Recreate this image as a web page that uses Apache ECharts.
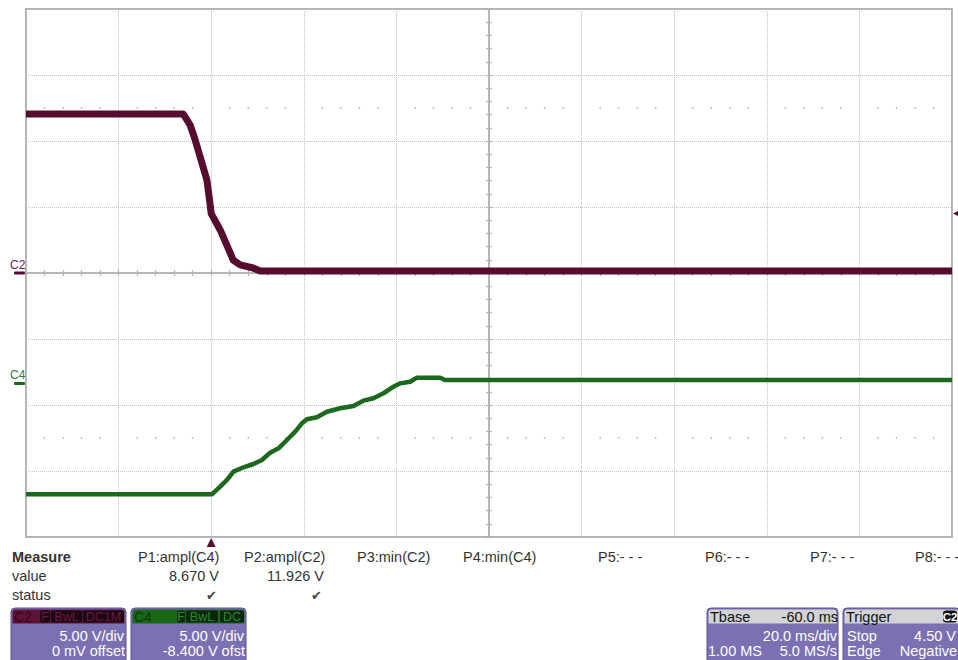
<!DOCTYPE html>
<html>
<head>
<meta charset="utf-8">
<script src="https://cdn.jsdelivr.net/npm/echarts@6/dist/echarts.min.js"></script>
<style>
  html, body { margin: 0; padding: 0; background: #ffffff; }
  #scope { width: 958px; height: 660px; }
</style>
</head>
<body>
<div id="scope"></div>
<script>
// ---- Acquired waveforms (time in ms relative to trigger, level in volts) ----
const c2Time  = [-40, -6.05, -4.54, -3.46, -2.38, -0.93, -0.22, 0, 1.94, 4.10, 4.75, 6.26, 9.07, 10.58, 160];
const c2Volts = [12.05, 12.05, 11.21, 10.08, 8.79, 7.05, 5.15, 4.5, 3.26, 1.52, 0.98, 0.61, 0.38, 0.15, 0.15];

const c4Time  = [-40, 0.15, 1.94, 3.39, 4.82, 6.98, 9.14, 10.95, 12.74, 14.54, 16.35, 18.14, 19.59, 20.67,
                 22.83, 24.99, 27.86, 30.73, 32.89, 35.05, 37.21, 39.37, 40.82, 42.98, 44.43, 49.46, 50.5, 160];
const c4Volts = [-8.37, -8.37, -7.79, -7.28, -6.65, -6.32, -6.07, -5.77, -5.21, -4.88, -4.25, -3.62, -2.99, -2.68,
                 -2.53, -2.11, -1.85, -1.68, -1.27, -1.09, -0.71, -0.21, 0.04, 0.16, 0.47, 0.47, 0.29, 0.29];

// ---- Acquisition settings ----
const timePerDiv = 20;        // ms/div
const timeDelay = -60;        // ms
const voltsPerDiv = [5, 5];   // C2, C4
const channelOffset = [0, -8.4];
const triggerLevel = 4.5;     // V on C2

// ---- Measurement table ----
const measureNames  = ['P1:ampl(C4)', 'P2:ampl(C2)', 'P3:min(C2)', 'P4:min(C4)', 'P5:- - -', 'P6:- - -', 'P7:- - -', 'P8:- - -'];
const measureValues = ['8.670 V', '11.926 V', '', '', '', '', '', ''];
const measureStatus = ['\u2714', '\u2714', '', '', '', '', '', ''];

// ---- Channel / timebase panels ----
const c2Panel = { name: 'C2', badges: ['F', 'BwL', 'DC1M'], lines: ['5.00 V/div', '0 mV offset'] };
const c4Panel = { name: 'C4', badges: ['F', 'BwL', 'DC'], lines: ['5.00 V/div', '-8.400 V ofst'] };
const tbasePanel = { title: 'Tbase', titleValue: '-60.0 ms', rows: [['', '20.0 ms/div'], ['1.00 MS', '5.0 MS/s']] };
const trigPanel = { title: 'Trigger', source: 'C2', rows: [['Stop', '4.50 V'], ['Edge', 'Negative']] };

// ------------------------------------------------------------------
const FONT = '"Liberation Sans", Arial, sans-serif';
const GRID_DOT = '#c2c2c2';
const AXIS_GREY = '#b2b2b2';
const C2_COLOR = '#560c2e';
const C4_COLOR = '#1c681c';

const halfSpanT = timePerDiv * 5;
const tCenter = -timeDelay;
const tMin = tCenter - halfSpanT, tMax = tCenter + halfSpanT;
function vRange(ch) {
  const centre = -channelOffset[ch];
  return [centre - voltsPerDiv[ch] * 4, centre + voltsPerDiv[ch] * 4];
}
const c2Range = vRange(0), c4Range = vRange(1);

// tick marks along the centre cross, 5 per division
const divAxisCommon = {
  type: 'value', interval: 1,
  axisLabel: { show: false }, splitLine: { show: false },
  axisLine: { show: true, onZero: true, lineStyle: { color: AXIS_GREY, width: 1.5 } },
  axisTick: { show: true, length: 3, lineStyle: { color: AXIS_GREY, width: 1.2 } },
  minorTick: { show: true, splitNumber: 5, length: 3, lineStyle: { color: AXIS_GREY, width: 1.2 } }
};

// dotted marker rows at +/-2.5 divisions
const markerDots = [];
for (let k = 1; k < 50; k++) {
  if (k % 5 === 0) continue;
  const x = -5 + k * 0.2;
  markerDots.push([x, 2.5], [x, -2.5]);
}

const chart = echarts.init(document.getElementById('scope'), null, { renderer: 'svg' });

const option = {
  animation: false,
  backgroundColor: '#ffffff',
  grid: { left: 26, top: 9, width: 926, height: 528, show: true, borderColor: AXIS_GREY, borderWidth: 2, backgroundColor: '#ffffff' },
  xAxis: [
    { type: 'value', position: 'bottom', min: tMin, max: tMax, interval: timePerDiv,
      axisLine: { show: false }, axisTick: { show: false }, axisLabel: { show: false },
      splitLine: { show: true, lineStyle: { color: GRID_DOT, type: [1, 1], width: 1 } } },
    Object.assign({}, divAxisCommon, { position: 'bottom', min: -5, max: 5,
      axisLine: Object.assign({}, divAxisCommon.axisLine, { onZeroAxisIndex: 2 }) }),
    Object.assign({}, divAxisCommon, { position: 'top', min: -5, max: 5,
      axisLine: Object.assign({}, divAxisCommon.axisLine, { onZeroAxisIndex: 2 }) })
  ],
  yAxis: [
    { type: 'value', position: 'left', min: c2Range[0], max: c2Range[1], interval: voltsPerDiv[0],
      axisLine: { show: false }, axisTick: { show: false }, axisLabel: { show: false },
      splitLine: { show: true, lineStyle: { color: GRID_DOT, type: [1, 1], width: 1 } } },
    { type: 'value', position: 'right', min: c4Range[0], max: c4Range[1], show: false, splitLine: { show: false } },
    Object.assign({}, divAxisCommon, { position: 'left', min: -4, max: 4,
      axisLine: Object.assign({}, divAxisCommon.axisLine, { onZeroAxisIndex: 1 }) }),
    Object.assign({}, divAxisCommon, { position: 'right', min: -4, max: 4,
      axisLine: Object.assign({}, divAxisCommon.axisLine, { onZeroAxisIndex: 1 }) })
  ],
  series: [
    { type: 'scatter', xAxisIndex: 1, yAxisIndex: 2, data: markerDots, symbolSize: 1.6, silent: true,
      itemStyle: { color: '#a0a0a0' }, z: 1 },
    { name: 'C2', type: 'line', xAxisIndex: 0, yAxisIndex: 0, showSymbol: false, silent: true, z: 5,
      data: c2Time.map((t, i) => [t, c2Volts[i]]),
      lineStyle: { color: C2_COLOR, width: 7, join: 'round' } },
    { name: 'C4', type: 'line', xAxisIndex: 0, yAxisIndex: 1, showSymbol: false, silent: true, z: 5,
      data: c4Time.map((t, i) => [t, c4Volts[i]]),
      lineStyle: { color: C4_COLOR, width: 4.5, join: 'round' } }
  ]
};
chart.setOption(option);

// ---------------- annotations outside the plot ----------------
function text(x, y, s, o) {
  o = o || {};
  return {
    type: 'text', z: 100, silent: true,
    style: {
      x: x, y: y, text: s,
      font: (o.weight || 'normal') + ' ' + (o.size || 14.5) + 'px ' + FONT,
      fill: o.fill || '#333333',
      align: o.align || 'left', textAlign: o.align || 'left',
      verticalAlign: 'middle', textVerticalAlign: 'middle'
    }
  };
}
function rect(x, y, w, h, fill, r, stroke) {
  return { type: 'rect', z: 90, silent: true, shape: { x: x, y: y, width: w, height: h, r: r || 0 },
           style: { fill: fill, stroke: stroke || null, lineWidth: stroke ? 1 : 0 } };
}
function poly(points, fill) {
  return { type: 'polygon', z: 100, silent: true, shape: { points: points }, style: { fill: fill } };
}

const g = [];
const gridRight = 952, gridBottom = 537;

// channel ground markers
const c2Zero = chart.convertToPixel({ yAxisIndex: 0 }, 0);
const c4Zero = chart.convertToPixel({ yAxisIndex: 1 }, 0);
g.push(text(10, c2Zero - 8.5, 'C2', { size: 12, fill: '#6e2250' }));
g.push(rect(14, c2Zero - 1.5, 11, 3, C2_COLOR, 1));
g.push(text(10, c4Zero - 9, 'C4', { size: 12, fill: '#2f7f3f' }));
g.push(rect(14, c4Zero - 2, 11, 3, C4_COLOR, 1));

// trigger level (right edge) and trigger time (bottom edge)
const trigY = chart.convertToPixel({ yAxisIndex: 0 }, triggerLevel);
g.push(poly([[gridRight + 1, trigY], [gridRight + 7, trigY - 3], [gridRight + 7, trigY + 3]], C2_COLOR));
const trigX = chart.convertToPixel({ xAxisIndex: 0 }, 0);
g.push(poly([[trigX, gridBottom + 1], [trigX - 4.5, gridBottom + 10], [trigX + 4.5, gridBottom + 10]], C2_COLOR));

// measurement table
const rowY = [557, 576, 595];
const colX = [138, 244, 357, 463, 598, 705, 810, 915];
const colRight = [219, 324];
g.push(text(12, rowY[0], 'Measure', { weight: 'bold' }));
g.push(text(12, rowY[1], 'value'));
g.push(text(12, rowY[2], 'status'));
measureNames.forEach((n, i) => {
  g.push(text(colX[i], rowY[0], n));
  if (measureValues[i]) g.push(text(colRight[i], rowY[1], measureValues[i], { align: 'right' }));
  if (measureStatus[i]) g.push(text(colRight[i] - 2, rowY[2], measureStatus[i], { align: 'right', size: 13, fill: '#444444' }));
});

// channel panels
const PANEL_BODY = '#7b70b2';
const PANEL_EDGE = '#5b5192';
function channelPanel(p, x, w, headFill, nameFill, badgeFill, badgeText, badgeX) {
  g.push(rect(x, 608, w, 60, PANEL_BODY, [4, 4, 0, 0], PANEL_EDGE));
  g.push(rect(x + 1.5, 609.5, w - 3, 14, headFill, [3, 3, 0, 0]));
  g.push(text(x + 3, 616.5, p.name, { fill: nameFill, size: 14 }));
  p.badges.forEach((b, i) => {
    const bx = badgeX[i][0], bw = badgeX[i][1] - badgeX[i][0];
    g.push(rect(bx, 610.5, bw, 12, badgeFill, 2));
    g.push(text(bx + bw / 2, 616.5, b, { fill: badgeText, size: 12.5, align: 'center' }));
  });
  g.push(text(x + w - 2, 636, p.lines[0], { fill: '#ffffff', align: 'right' }));
  g.push(text(x + w - 1, 651, p.lines[1], { fill: '#ffffff', align: 'right' }));
}
channelPanel(c2Panel, 11, 115, '#5e1238', '#35061c', '#1c0610', '#6e1a45', [[40, 50], [51, 82], [83, 124]]);
channelPanel(c4Panel, 131, 115, '#186818', '#0b3a0b', '#0b260b', '#2a8a2a', [[177, 185], [186, 218], [220, 244]]);

// timebase and trigger panels
function infoPanel(x, w, title, right, rightBadge) {
  g.push(rect(x, 608, w, 60, PANEL_BODY, [4, 4, 0, 0], PANEL_EDGE));
  g.push(rect(x + 1.5, 609.5, w - 3, 14, '#d3d3d3', [3, 3, 0, 0]));
  g.push(text(x + 3, 616.5, title, { fill: '#111111' }));
  if (rightBadge) {
    g.push(rect(943, 610.5, 14, 12, '#111111', 3));
    g.push(text(950, 616.5, right, { fill: '#ffffff', size: 11.5, align: 'center', weight: 'bold' }));
  } else {
    g.push(text(x + w, 616.5, right, { fill: '#111111', align: 'right' }));
  }
}
infoPanel(707, 131, tbasePanel.title, tbasePanel.titleValue, false);
g.push(text(837, 636, tbasePanel.rows[0][1], { fill: '#ffffff', align: 'right' }));
g.push(text(708, 651, tbasePanel.rows[1][0], { fill: '#ffffff' }));
g.push(text(837, 651, tbasePanel.rows[1][1], { fill: '#ffffff', align: 'right' }));

infoPanel(843, 117, trigPanel.title, trigPanel.source, true);
g.push(text(847, 636, trigPanel.rows[0][0], { fill: '#ffffff' }));
g.push(text(956, 636, trigPanel.rows[0][1], { fill: '#ffffff', align: 'right' }));
g.push(text(847, 651, trigPanel.rows[1][0], { fill: '#ffffff' }));
g.push(text(957, 651, trigPanel.rows[1][1], { fill: '#ffffff', align: 'right' }));

chart.setOption({ graphic: { elements: g } });
</script>
</body>
</html>
